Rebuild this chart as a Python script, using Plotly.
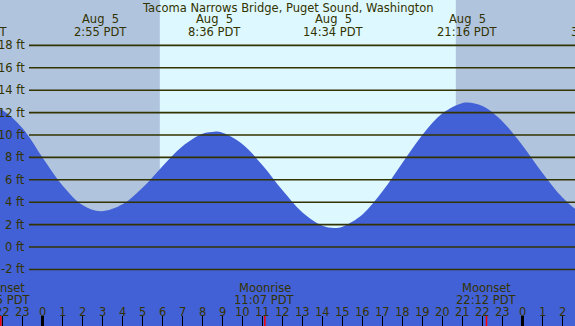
import plotly.graph_objects as go

# ---------------- data ----------------
# hours measured from midnight of Aug 5 (negative = Aug 4, >24 = Aug 6)
tide_hours = [-3.267, -3, -2, -1, 0, 1, 2, 2.917, 4, 5, 6, 7, 8, 8.6, 9, 10, 11, 12, 13,
              14, 14.567, 15, 16, 17, 18, 19, 20, 21, 21.267, 22, 23, 24, 25, 26, 27, 27.767]
tide_ft = [12.9, 12.85, 12.2, 10.6, 8.0, 5.5, 3.75, 3.2, 3.82, 5.3, 7.22, 9.0, 10.11, 10.3, 10.2,
           9.18, 7.3, 5.06, 3.08, 1.89, 1.7, 1.82, 2.91, 4.97, 7.52, 10.02, 11.94, 12.86, 12.9,
           12.58, 11.21, 9.06, 6.6, 4.41, 2.97, 2.6]

extreme_hours = [-24 + 20 + 44 / 60, 2 + 55 / 60, 8 + 36 / 60, 14 + 34 / 60, 21 + 16 / 60, 24 + 3 + 46 / 60]
extreme_dates = ["Aug  4", "Aug  5", "Aug  5", "Aug  5", "Aug  5", "Aug  6"]
extreme_times = ["20:44 PDT", "2:55 PDT", "8:36 PDT", "14:34 PDT", "21:16 PDT", "3:46 PDT"]

moon_hours = [-24 + 21 + 55 / 60, 11 + 7 / 60, 22 + 12 / 60]
moon_names = ["Moonset", "Moonrise", "Moonset"]
moon_times = ["21:55 PDT", "11:07 PDT", "22:12 PDT"]

sunrise_hour = 5 + 52 / 60
sunset_hour = 20 + 40 / 60

grid_ft = [-2, 0, 2, 4, 6, 8, 10, 12, 14, 16, 18]
grid_labels = ["-2 ft", "0 ft", "2 ft", "4 ft", "6 ft", "8 ft", "10 ft", "12 ft", "14 ft", "16 ft", "18 ft"]

tick_hours = list(range(-2, 27))
tick_labels = ["22", "23", "0", "1", "2", "3", "4", "5", "6", "7", "8", "9", "10", "11", "12",
               "13", "14", "15", "16", "17", "18", "19", "20", "21", "22", "23", "0", "1", "2"]
midnight_hours = [0, 24]

title = "Tacoma Narrows Bridge, Puget Sound, Washington"

# ---------------- layout constants ----------------
W, H = 575, 326
X0, X1 = -2.125, 26.625
Y0, Y1 = -7.05, 22.05
DAY = "#DDF8FF"
NIGHT = "#B0C4DE"
WATER = "#4361D6"
INK = "#333300"
FONT = "DejaVu Sans"
FS = 11.5


def px_y(py):
    """pixel row (from top) -> paper y"""
    return 1 - py / H


def paper_x(h):
    return (h - X0) / (X1 - X0)


def nb(s):
    return s.replace(" ", "\u00a0")


fig = go.Figure()

# baseline for the water fill (bottom of the plot)
fig.add_trace(go.Scatter(x=[X0 - 2, X1 + 2], y=[Y0 - 1, Y0 - 1], mode="lines",
                         line=dict(width=0), hoverinfo="skip", showlegend=False))
fig.add_trace(go.Scatter(x=tide_hours, y=tide_ft, mode="lines", line=dict(width=0, color=WATER, shape="spline"),
                         fill="tonexty", fillcolor=WATER, hoverinfo="skip", showlegend=False))

shapes = []
# night shading
for a, b in [(X0 - 2, sunrise_hour), (sunset_hour, X1 + 2)]:
    shapes.append(dict(type="rect", xref="x", yref="paper", x0=a, x1=b, y0=0, y1=1,
                       fillcolor=NIGHT, line=dict(width=0), layer="below"))
# horizontal grid lines
for v in grid_ft:
    shapes.append(dict(type="line", xref="paper", yref="y", x0=29 / W, x1=1, y0=v, y1=v,
                       line=dict(color=INK, width=1.6), layer="above"))
# hour ticks
for h in tick_hours:
    wdt = 3 if h in midnight_hours else 1
    shapes.append(dict(type="line", xref="x", yref="paper", x0=h, x1=h, y0=0, y1=10 / H,
                       line=dict(color="black", width=wdt), layer="above"))
# moon event ticks
for h in moon_hours:
    shapes.append(dict(type="line", xref="x", yref="paper", x0=h, x1=h, y0=0, y1=10 / H,
                       line=dict(color="red", width=1.5), layer="above"))

ann = []
font = dict(family=FONT, size=FS, color=INK)
ann.append(dict(text=title, xref="paper", yref="paper", x=0.5, y=px_y(8), showarrow=False,
                xanchor="center", yanchor="middle", font=font))
for h, d, t in zip(extreme_hours, extreme_dates, extreme_times):
    ann.append(dict(text=nb(d), xref="paper", yref="paper", x=paper_x(h), y=px_y(19.5), showarrow=False,
                    xanchor="center", yanchor="middle", font=font))
    ann.append(dict(text=nb(t), xref="paper", yref="paper", x=paper_x(h), y=px_y(32.5), showarrow=False,
                    xanchor="center", yanchor="middle", font=font))
for h, n, t in zip(moon_hours, moon_names, moon_times):
    ann.append(dict(text=n, xref="paper", yref="paper", x=paper_x(h), y=px_y(288), showarrow=False,
                    xanchor="center", yanchor="middle", font=font))
    ann.append(dict(text=nb(t), xref="paper", yref="paper", x=paper_x(h), y=px_y(299.5), showarrow=False,
                    xanchor="center", yanchor="middle", font=font))
for h, lab in zip(tick_hours, tick_labels):
    ann.append(dict(text=lab, xref="paper", yref="paper", x=paper_x(h), y=px_y(311.5), showarrow=False,
                    xanchor="center", yanchor="middle", font=font))
for v, lab in zip(grid_ft, grid_labels):
    ann.append(dict(text=nb(lab), xref="paper", yref="y", x=27 / W, y=v, showarrow=False,
                    xanchor="right", yanchor="middle", font=font))

fig.update_layout(
    width=W, height=H, margin=dict(l=0, r=0, t=0, b=0),
    paper_bgcolor=DAY, plot_bgcolor=DAY,
    xaxis=dict(range=[X0, X1], visible=False, fixedrange=True),
    yaxis=dict(range=[Y0, Y1], visible=False, fixedrange=True),
    shapes=shapes, annotations=ann, showlegend=False,
)

fig.write_html("out.html", config={"displayModeBar": False},
               post_script="document.body.style.margin='0px';document.body.style.overflow='hidden';")
